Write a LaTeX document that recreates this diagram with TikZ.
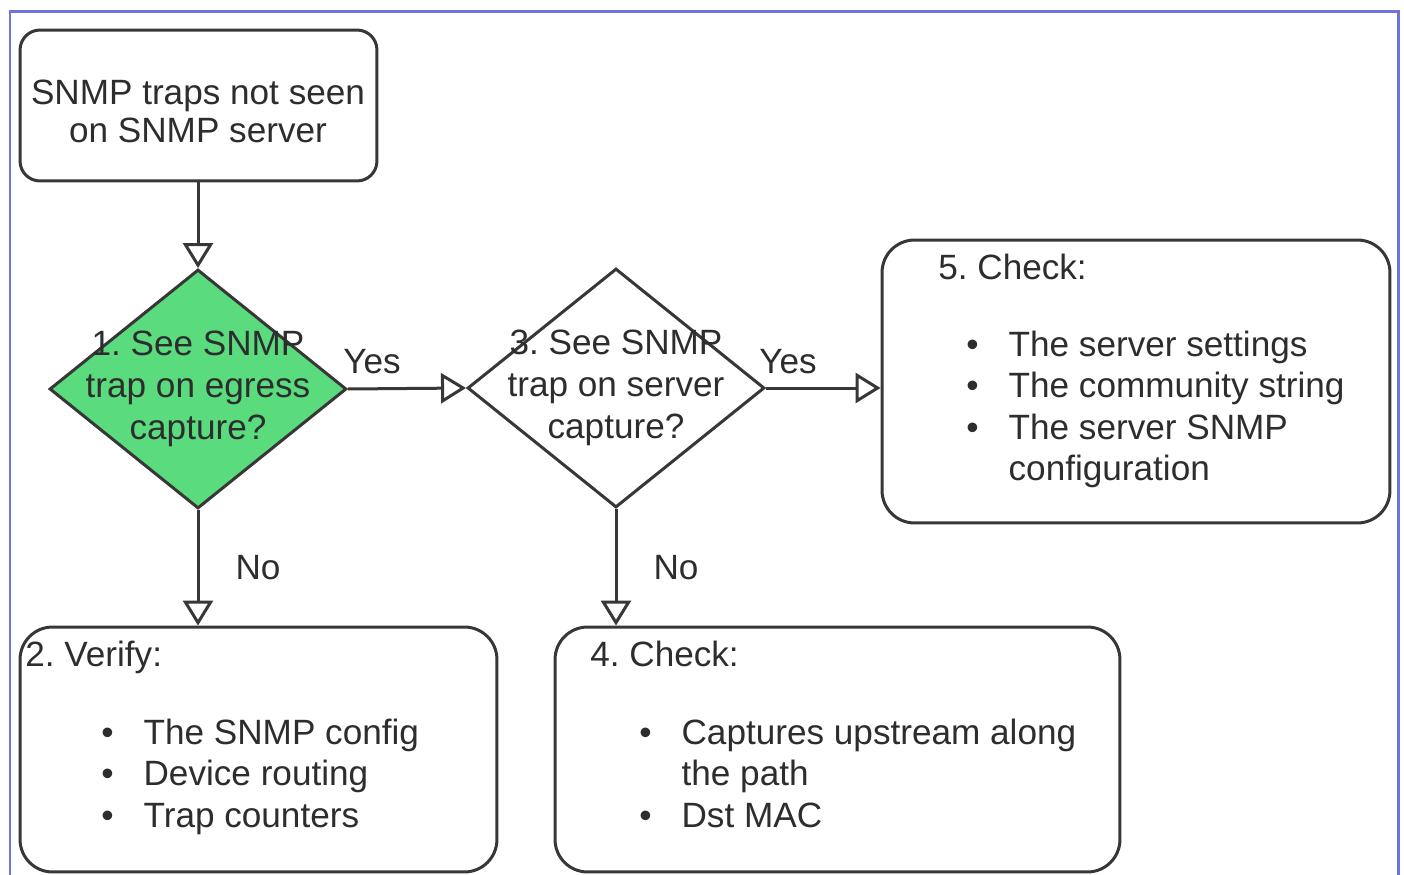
\documentclass[tikz,border=0pt]{standalone}
\usepackage{fontspec}
\setmainfont{Liberation Sans}
\usetikzlibrary{arrows.meta,shapes.geometric}
\definecolor{framecol}{RGB}{112,116,214}
\definecolor{greenfill}{RGB}{90,219,126}
\definecolor{linecol}{RGB}{55,55,55}
\definecolor{textcol}{RGB}{45,45,45}
\frenchspacing
\begin{document}
\begin{tikzpicture}[x=0.02cm,y=-0.02cm,
  font=\fontsize{20}{23.7}\selectfont\frenchspacing, text=textcol,
  rbox/.style={draw=linecol, line width=0.06cm, rounded corners=#1, inner sep=0pt, fill=white},
  rbox/.default=0.65cm,
  dia/.style={diamond, draw=linecol, line width=0.06cm, inner sep=0pt, minimum width=5.94cm, minimum height=4.78cm},
  arr/.style={draw=linecol, line width=0.06cm, -{Triangle[open, length=0.5cm, width=0.6cm, fill=white]}},
  lbl/.style={inner sep=0pt}
]
\useasboundingbox (0,0) rectangle (1404,875);
\fill[white] (0,0) rectangle (1404,875);
\draw[framecol, line width=0.06cm] (10,880) -- (10,12) -- (1398,12) -- (1398,880);

% start box
\node[rbox=0.4cm, minimum width=7.14cm, minimum height=3.02cm] (b1) at (198.5,105.5) {};
\node[lbl, align=center] (t1) at (198,111) {SNMP traps not seen\\[-2pt]on SNMP server};

% decisions
\node[dia, fill=greenfill] (d1) at (198,389) {};
\node[lbl, align=center] (t2) at (198,389) {1. See SNMP\\trap on egress\\capture?};
\node[dia, fill=white] (d2) at (616,388) {};
\node[lbl, align=center] (t3) at (616,388) {3. See SNMP\\trap on server\\capture?};

% box 5
\node[rbox, minimum width=10.16cm, minimum height=5.66cm] (b5) at (1136,381.5) {};
\node[lbl, anchor=base west] (h5) at (938,279) {5. Check:};
\node[lbl, anchor=base west] (l5) at (966,356) {\begin{tabular}[t]{@{}l@{\hspace{0.6cm}}l@{}}•&The server settings\\•&The community string\\•&The server SNMP\\&configuration\end{tabular}};

% box 2
\node[rbox, minimum width=9.54cm, minimum height=4.9cm] (b2) at (258.5,749.5) {};
\node[lbl, anchor=base west] (h2) at (25,666) {2. Verify:};
\node[lbl, anchor=base west] (l2) at (101,744) {\begin{tabular}[t]{@{}l@{\hspace{0.6cm}}l@{}}•&The SNMP config\\•&Device routing\\•&Trap counters\end{tabular}};

% box 4
\node[rbox, minimum width=11.3cm, minimum height=4.9cm] (b4) at (837.5,749.5) {};
\node[lbl, anchor=base west] (h4) at (590,666) {4. Check:};
\node[lbl, anchor=base west] (l4) at (639,744) {\begin{tabular}[t]{@{}l@{\hspace{0.6cm}}l@{}}•&Captures upstream along\\&the path\\•&Dst MAC\end{tabular}};

% connectors
\draw[arr] (b1.south -| d1.north) -- (d1.north);
\draw[arr] (d1.east) -- (d2.west);
\draw[arr] (d2.east) -- (d2.east -| b5.west);
\draw[arr] (d1.south) -- (d1.south |- b2.north);
\draw[arr] (d2.south) -- (d2.south |- b4.north);

% labels
\node[lbl] (y1) at (372,362) {Yes};
\node[lbl] (y2) at (788,362) {Yes};
\node[lbl] (n1) at (258,568) {No};
\node[lbl] (n2) at (676,568) {No};
\end{tikzpicture}
\end{document}
